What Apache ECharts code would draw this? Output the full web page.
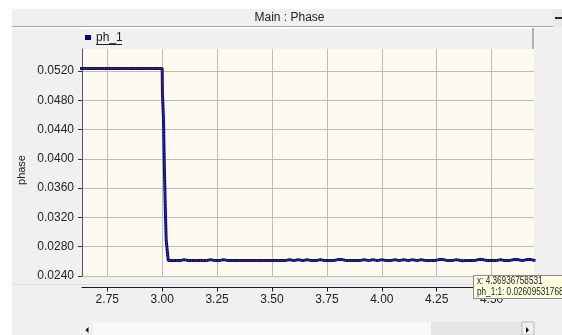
<!DOCTYPE html>
<html>
<head>
<meta charset="utf-8">
<script src="https://cdn.jsdelivr.net/npm/echarts@6/dist/echarts.min.js"></script>
<style>
  html, body { margin: 0; padding: 0; background: #ffffff; }
  #chart { width: 562px; height: 335px; }
</style>
</head>
<body>
<div id="chart"></div>
<script>
// ---- phase trace ph_1 ----
// plateau before the switching event
const preTime  = [2.60, 2.70, 2.80, 2.90, 3.000];
const prePhase = [0.05233, 0.05233, 0.05233, 0.05233, 0.05233];

// fast drop right after t = 3.0
const dropTime  = [3.0010, 3.0055, 3.0100, 3.0145, 3.0180, 3.0245, 3.0275];
const dropPhase = [0.04900, 0.04572, 0.03866, 0.03273, 0.02895, 0.02895, 0.02610];

// settled level, sampled every 0.02 starting at 3.04
const postStart = 3.04;
const postStep  = 0.02;
const postPhase = [
  0.02610, 0.02610, 0.02610, 0.02624, 0.02610, 0.02610, 0.02610, 0.02610, 0.02610, 0.02624,
  0.02610, 0.02610, 0.02624, 0.02610, 0.02610, 0.02610, 0.02610, 0.02610, 0.02610, 0.02610,
  0.02610, 0.02610, 0.02610, 0.02610, 0.02610, 0.02610, 0.02610, 0.02624, 0.02610, 0.02624,
  0.02610, 0.02624, 0.02610, 0.02610, 0.02624, 0.02610, 0.02610, 0.02610, 0.02624, 0.02624,
  0.02610, 0.02610, 0.02610, 0.02610, 0.02624, 0.02610, 0.02624, 0.02610, 0.02624, 0.02610,
  0.02610, 0.02624, 0.02610, 0.02624, 0.02610, 0.02624, 0.02610, 0.02624, 0.02610, 0.02610,
  0.02610, 0.02624, 0.02624, 0.02610, 0.02610, 0.02624, 0.02610, 0.02610, 0.02610, 0.02610,
  0.02624, 0.02624, 0.02610, 0.02610, 0.02610, 0.02624, 0.02610, 0.02610, 0.02624, 0.02624,
  0.02610, 0.02624, 0.02624, 0.02610
];

// probed sample shown in the hover box
const probeTime  = 4.36936758531;
const probeValue = 0.026095317686;

// axis ticks
const xTicks = [2.75, 3.00, 3.25, 3.50, 3.75, 4.00, 4.25, 4.50];
const yTicks = [0.0240, 0.0280, 0.0320, 0.0360, 0.0400, 0.0440, 0.0480, 0.0520];

// ---- assemble [time, phase] pairs ----
const phData = [];
preTime.forEach((t, i) => phData.push([t, prePhase[i]]));
dropTime.forEach((t, i) => phData.push([t, dropPhase[i]]));
postPhase.forEach((v, i) => phData.push([+(postStart + i * postStep).toFixed(4), v]));
phData.push([probeTime, probeValue]);
phData.sort((a, b) => a[0] - b[0]);

const FONT = 'Liberation Sans, Arial, sans-serif';
const TXT = '#222222';
const GRIDLINE = '#bdbdbd';

const chart = echarts.init(document.getElementById('chart'), null, { renderer: 'canvas' });

chart.setOption({
  animation: false,
  backgroundColor: '#f0f0f0',
  textStyle: { fontFamily: FONT },
  grid: {
    left: 82, right: 28, top: 49, bottom: 59,
    show: true, backgroundColor: '#fffaf0', borderWidth: 0
  },
  legend: {
    left: 85, top: 31.5, padding: 0,
    itemWidth: 6, itemHeight: 5,
    selectedMode: false,
    textStyle: { fontSize: 12, color: TXT, fontFamily: FONT, lineHeight: 12 },
    data: [{ name: 'ph_1', icon: 'rect' }]
  },
  xAxis: {
    type: 'value',
    min: 2.6348, max: 4.693,
    position: 'bottom',
    offset: 11.5,
    axisLine: { show: true, onZero: false, lineStyle: { color: '#1a1a1a', width: 1 } },
    axisTick: { show: true, length: 4, customValues: xTicks, lineStyle: { color: '#1a1a1a' } },
    axisLabel: {
      customValues: xTicks, margin: 6, fontSize: 12, color: TXT, fontFamily: FONT,
      formatter: v => v.toFixed(2)
    },
    splitLine: { show: true, lineStyle: { color: GRIDLINE, width: 1 } }
  },
  yAxis: {
    type: 'value',
    min: 0.024, max: 0.055,
    axisLine: { show: true, lineStyle: { color: '#555555', width: 1 } },
    axisTick: { show: true, length: 4, customValues: yTicks, lineStyle: { color: '#333333' } },
    axisLabel: {
      customValues: yTicks, margin: 8, fontSize: 12, color: TXT, fontFamily: FONT,
      formatter: v => v.toFixed(4)
    },
    splitLine: { show: true, lineStyle: { color: GRIDLINE, width: 1 } }
  },
  series: [
    {
      name: 'ph_1', type: 'line', data: phData,
      showSymbol: false, z: 3,
      itemStyle: { color: '#000080' },
      lineStyle: { width: 3, color: '#0c0c86' }
    },
    {
      name: 'ph_1 samples', type: 'line', data: phData,
      showSymbol: false, silent: true, z: 4,
      lineStyle: { width: 1, color: '#5a5aaa', type: [1, 2] }
    }
  ],
  graphic: [
    // window margins
    { type: 'rect', shape: { x: 0, y: 0, width: 562, height: 9 }, style: { fill: '#ffffff' }, z: 50 },
    { type: 'rect', shape: { x: 0, y: 0, width: 12, height: 335 }, style: { fill: '#ffffff' }, z: 50 },
    // caption bar
    { type: 'line', shape: { x1: 12, y1: 26.5, x2: 553, y2: 26.5 }, style: { stroke: '#a3a3a3', lineWidth: 1 }, z: 50 },
    { type: 'line', shape: { x1: 12, y1: 27.5, x2: 553, y2: 27.5 }, style: { stroke: '#ffffff', lineWidth: 1 }, z: 50 },
    {
      type: 'text', x: 289.5, y: 17.5, z: 50,
      style: { text: 'Main : Phase', font: '12px ' + FONT, fill: TXT, align: 'center', verticalAlign: 'middle' }
    },
    { type: 'rect', shape: { x: 553, y: 9, width: 9, height: 18 }, style: { fill: '#e9e9e9' }, z: 50 },
    { type: 'rect', shape: { x: 555, y: 17, width: 7, height: 2 }, style: { fill: '#2a2a2a' }, z: 51 },
    // legend frame
    { type: 'line', shape: { x1: 82, y1: 28.5, x2: 533, y2: 28.5 }, style: { stroke: '#ffffff', lineWidth: 1 }, z: 50 },
    { type: 'line', shape: { x1: 533, y1: 28, x2: 533, y2: 49 }, style: { stroke: '#9c9c9c', lineWidth: 1.5 }, z: 50 },
    { type: 'line', shape: { x1: 96, y1: 44.5, x2: 122, y2: 44.5 }, style: { stroke: TXT, lineWidth: 1 }, z: 50 },
    // separator above the x axis
    { type: 'line', shape: { x1: 12, y1: 284.5, x2: 562, y2: 284.5 }, style: { stroke: '#dcdcdc', lineWidth: 1 }, z: 1 },
    // y axis title
    {
      type: 'text', x: 22, y: 170, rotation: Math.PI / 2, z: 50,
      style: { text: 'phase', font: '11px ' + FONT, fill: TXT, align: 'center', verticalAlign: 'middle' }
    },
    // horizontal scrollbar
    { type: 'rect', shape: { x: 82, y: 322, width: 452, height: 13 }, style: { fill: '#e6e6e6' }, z: 50 },
    { type: 'rect', shape: { x: 93, y: 322, width: 338, height: 13 }, style: { fill: '#f8f8f8' }, z: 51 },
    { type: 'rect', shape: { x: 82, y: 322, width: 11, height: 13 }, style: { fill: '#f0f0f0' }, z: 51 },
    { type: 'polygon', shape: { points: [[88.5, 327], [88.5, 333], [85.5, 330]] }, style: { fill: '#000000' }, z: 52 },
    { type: 'rect', shape: { x: 522, y: 322, width: 12, height: 13 }, style: { fill: '#f0f0f0', stroke: '#b8b8b8', lineWidth: 1 }, z: 51 },
    { type: 'polygon', shape: { points: [[526, 327], [526, 333], [529, 330]] }, style: { fill: '#000000' }, z: 52 },
    // hover box for the probed sample
    {
      type: 'group', z: 100,
      children: [
        { type: 'rect', z: 100, shape: { x: 473.5, y: 275.5, width: 100, height: 23 }, style: { fill: '#ffffe1', stroke: '#8a8a8a', lineWidth: 1 } },
        {
          type: 'text', z: 101, x: 477, y: 281, scaleX: 0.78,
          style: { text: 'x: ' + probeTime, font: '10.5px ' + FONT, fill: TXT, verticalAlign: 'middle' }
        },
        {
          type: 'text', z: 101, x: 477, y: 292.5, scaleX: 0.78,
          style: { text: 'ph_1:1: ' + probeValue, font: '10.5px ' + FONT, fill: TXT, verticalAlign: 'middle' }
        }
      ]
    }
  ]
});
</script>
</body>
</html>
